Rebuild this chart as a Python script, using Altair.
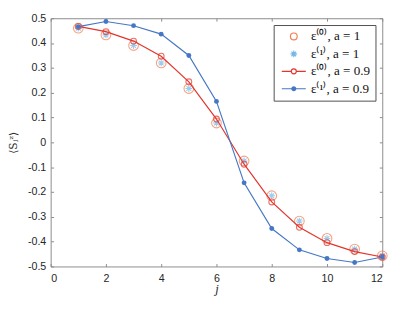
import altair as alt
import pandas as pd

# ---- data ----
j_vals = list(range(1, 13))
a1_e0 = [0.460, 0.433, 0.390, 0.320, 0.217, 0.078, -0.075, -0.215, -0.317, -0.387, -0.430, -0.457]
a1_e1 = [0.460, 0.433, 0.390, 0.320, 0.217, 0.078, -0.075, -0.215, -0.317, -0.387, -0.430, -0.457]
a09_e0 = [0.467, 0.446, 0.408, 0.347, 0.244, 0.094, -0.088, -0.240, -0.342, -0.404, -0.440, -0.462]
a09_e1 = [0.466, 0.487, 0.470, 0.436, 0.350, 0.165, -0.163, -0.347, -0.433, -0.468, -0.484, -0.462]

series_labels = ["ε⁽⁰⁾, a = 1", "ε⁽¹⁾, a = 1", "ε⁽⁰⁾, a = 0.9", "ε⁽¹⁾, a = 0.9"]
series_colors = ["#F47C50", "#72B8E4", "#E3342D", "#4677C4"]
x_ticks = [0, 2, 4, 6, 8, 10, 12]
y_ticks = [-0.5, -0.4, -0.3, -0.2, -0.1, 0, 0.1, 0.2, 0.3, 0.4, 0.5]

rows = []
for lab, vals in zip(series_labels, [a1_e0, a1_e1, a09_e0, a09_e1]):
    for jj, v in zip(j_vals, vals):
        rows.append({"j": jj, "s": v, "series": lab})
df = pd.DataFrame(rows)

W, H = 342, 256
AX = "#8a8a8a"
xs = alt.Scale(domain=[0, 12], nice=False)
ys = alt.Scale(domain=[-0.5, 0.5], nice=False)

ASTER = "M0,-1L0,1M-1,0L1,0M-0.71,-0.71L0.71,0.71M-0.71,0.71L0.71,-0.71"
LEG_SHAPES = [
    "M-0.875,0A0.875,0.875 0 1,1 0.875,0A0.875,0.875 0 1,1 -0.875,0Z",
    "M0,-0.85L0,0.85M-0.85,0L0.85,0M-0.6,-0.6L0.6,0.6M-0.6,0.6L0.6,-0.6",
    "M-3.1,0L-0.65,0M0.65,0L3.1,0M-0.65,0A0.65,0.65 0 1,1 0.65,0A0.65,0.65 0 1,1 -0.65,0Z",
    "M-3.1,0L3.1,0M-0.5,0A0.5,0.5 0 1,1 0.5,0A0.5,0.5 0 1,1 -0.5,0ZM-0.25,0A0.25,0.25 0 1,1 0.25,0A0.25,0.25 0 1,1 -0.25,0Z",
]

ylab = "datum.value == 0 ? '0' : replace(format(datum.value, '.1f'), '\u2212', '-')"

base = alt.Chart(df)

def sel(lab):
    return base.transform_filter(alt.datum.series == lab)

l1 = sel(series_labels[0]).mark_point(shape="circle", filled=False, size=100,
                                      color=series_colors[0], strokeWidth=1.1).encode(
    x=alt.X("j:Q", scale=xs, axis=alt.Axis(values=x_ticks, title="j", tickSize=0,
                                            labelPadding=6, domain=False, grid=False,
                                            titleFont="Liberation Serif", titleFontStyle="italic",
                                            titleFontSize=13, titleFontWeight="normal",
                                            titlePadding=0)),
    y=alt.Y("s:Q", scale=ys, axis=alt.Axis(values=y_ticks, title="⟨Ŝⱼᶻ⟩", tickSize=0,
                                            labelPadding=5, domain=False, grid=False,
                                            labelExpr=ylab,
                                            titleFont="DejaVu Serif", titleFontSize=11,
                                            titleFontWeight="normal", titlePadding=9)),
)

l2 = sel(series_labels[1]).mark_point(shape=ASTER, filled=False, size=49,
                                      color=series_colors[1], strokeWidth=1.1).encode(
    x=alt.X("j:Q", scale=xs, axis=alt.Axis(values=x_ticks, orient="top", offset=-H,
                                            labels=False, domain=False, grid=False,
                                            tickSize=3, tickColor=AX, title=None)),
    y=alt.Y("s:Q", scale=ys, axis=alt.Axis(values=y_ticks, orient="right", offset=-W,
                                            labels=False, domain=False, grid=False,
                                            tickSize=3, tickColor=AX, title=None)),
)

l3 = sel(series_labels[2]).mark_line(color=series_colors[2], strokeWidth=1.2).encode(
    x=alt.X("j:Q", scale=xs, axis=alt.Axis(values=x_ticks, orient="bottom", offset=-H,
                                            labels=False, domain=False, grid=False,
                                            tickSize=3, tickColor=AX, title=None)),
    y=alt.Y("s:Q", scale=ys, axis=alt.Axis(values=y_ticks, orient="left", offset=-W,
                                            labels=False, domain=False, grid=False,
                                            tickSize=3, tickColor=AX, title=None)),
)
l3p = sel(series_labels[2]).mark_point(shape="circle", filled=False, size=36,
                                       color=series_colors[2], strokeWidth=1.1).encode(
    x=alt.X("j:Q", scale=xs, axis=None),
    y=alt.Y("s:Q", scale=ys, axis=None),
)
l4 = sel(series_labels[3]).mark_line(color=series_colors[3], strokeWidth=1.2).encode(
    x=alt.X("j:Q", scale=xs, axis=None),
    y=alt.Y("s:Q", scale=ys, axis=None),
)
l4p = sel(series_labels[3]).mark_point(shape="circle", filled=True, size=25, opacity=1,
                                       color=series_colors[3]).encode(
    x=alt.X("j:Q", scale=xs, axis=None),
    y=alt.Y("s:Q", scale=ys, axis=None),
)

leg = base.mark_point(filled=False, opacity=0, strokeWidth=1.2).encode(
    x=alt.X("j:Q", scale=xs, axis=None),
    y=alt.Y("s:Q", scale=ys, axis=None),
    color=alt.Color("series:N", scale=alt.Scale(domain=series_labels, range=series_colors),
                    legend=alt.Legend(title=None, orient="top-right", offset=7,
                                      symbolOpacity=1, symbolSize=64, symbolStrokeWidth=1.2,
                                      labelOffset=11, padding=5, rowPadding=3,
                                      labelFont="Liberation Serif", labelFontSize=13.5,
                                      labelColor="#111111", fillColor="white",
                                      strokeColor="#4d4d4d", symbolOffset=9)),
    shape=alt.Shape("series:N", scale=alt.Scale(domain=series_labels, range=LEG_SHAPES),
                    legend=alt.Legend(title=None)),
)

chart = alt.layer(l1, l2, l3, l3p, l4, l4p, leg).resolve_axis(
    x="independent", y="independent"
).properties(
    width=W, height=H, padding={"left": 0, "top": 0, "right": 0, "bottom": 0}
).configure_view(
    stroke=AX, strokeWidth=1
).configure_axis(
    labelFont="Liberation Sans", labelFontSize=11, labelColor="#262626",
    titleColor="#262626"
)

chart.save("out.html", embed_options={"renderer": "svg", "actions": False})
